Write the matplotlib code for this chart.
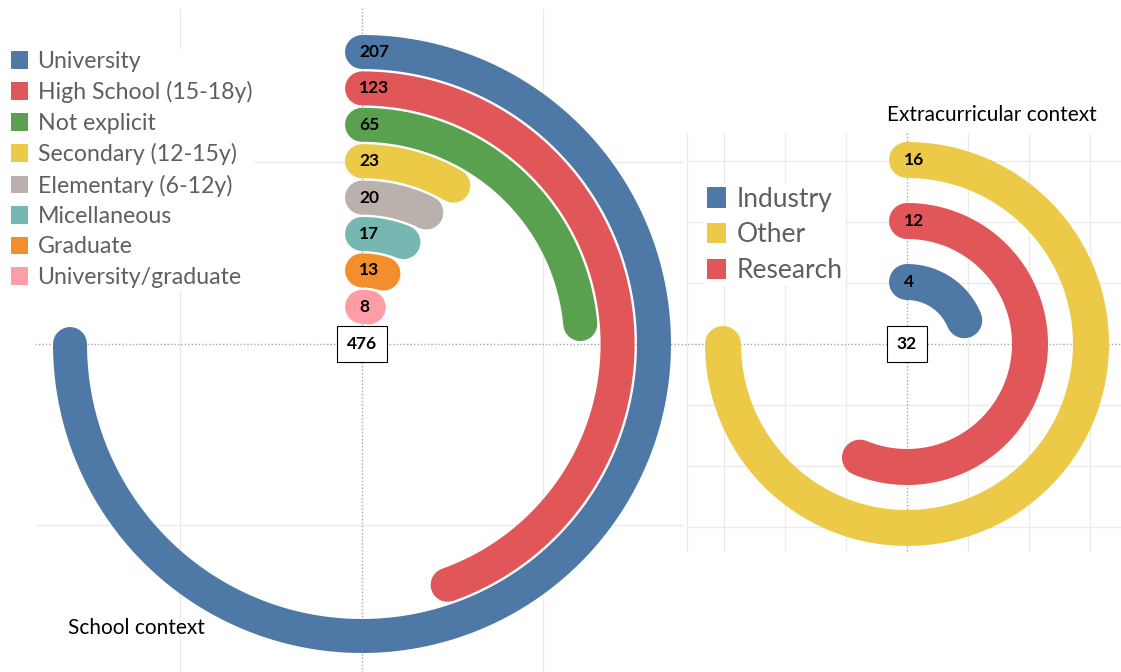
import numpy as np
import matplotlib
matplotlib.use('Agg')
import matplotlib.pyplot as plt
from matplotlib.patches import Patch

# data
school_categories = ['University', 'High School (15-18y)', 'Not explicit', 'Secondary (12-15y)',
                     'Elementary (6-12y)', 'Micellaneous', 'Graduate', 'University/graduate']
school_values = [207, 123, 65, 23, 20, 17, 13, 8]
school_colors = ['#4e79a7', '#e15759', '#59a14f', '#edc948', '#bab0ac', '#76b7b2', '#f28e2b', '#ff9da7']

extra_categories = ['Industry', 'Other', 'Research']
extra_values = [4, 16, 12]
extra_colors = ['#4e79a7', '#edc948', '#e15759']

W, H = 1121, 672
fig = plt.figure(figsize=(W / 100, H / 100), dpi=100)

# background axes in pixel units, for the tableau style grid
bg = fig.add_axes([0, 0, 1, 1])
bg.set_xlim(0, W)
bg.set_ylim(H, 0)
bg.axis('off')

grid_c = '#ebebeb'
dot_c = '#a8a8a8'
# left pane
bg.vlines([180, 543], 8, H, color=grid_c, lw=1, zorder=0)
bg.hlines([162, 525], 35, 683, color=grid_c, lw=1, zorder=0)
# right pane
bg.vlines([687, 724, 785, 846, 968, 1029, 1090], 133, 552, color=grid_c, lw=1, zorder=0)
bg.hlines([161, 222, 283, 405, 466, 527], 687, W, color=grid_c, lw=1, zorder=0)
# dotted axis lines
bg.hlines(344, 35, W, color=dot_c, lw=1, linestyle=(0, (1, 1.5)), zorder=0)
bg.vlines(362, 8, H, color=dot_c, lw=1, linestyle=(0, (1, 1.5)), zorder=0)
bg.vlines(907, 133, 552, color=dot_c, lw=1, linestyle=(0, (1, 1.5)), zorder=0)


def polar_at(cx, cy, R):
    rect = [(cx - R) / W, (H - (cy + R)) / H, 2 * R / W, 2 * R / H]
    ax = fig.add_axes(rect, projection='polar')
    ax.set_theta_zero_location('N')
    ax.set_theta_direction(-1)
    ax.set_ylim(0, R)
    ax.axis('off')
    return ax


def radial_bars(ax, values, colors, r_outer, step, lw_px):
    vmax = max(values)
    order = np.argsort(values)[::-1]
    for i, idx in enumerate(order):
        v = values[idx]
        r = r_outer - i * step
        theta = np.linspace(0, np.deg2rad(v / vmax * 270), 400)
        ax.plot(theta, np.full_like(theta, r), color=colors[idx], lw=lw_px * 0.72,
                solid_capstyle='round', clip_on=False)
        ax.annotate(str(v), xy=(0, r), xytext=(-3, 0), textcoords='offset pixels',
                    ha='left', va='center', fontsize=12.5, fontweight='bold',
                    family='Lato', color='black')
    ax.text(0, 0, str(sum(values)), ha='center', va='center', fontsize=12.5,
            fontweight='bold', family='Lato', color='black',
            bbox=dict(boxstyle='square,pad=0.55', fc='white', ec='black', lw=0.8))


ax1 = polar_at(362, 344, 320)
radial_bars(ax1, school_values, school_colors, 292, 36.4, 34)

ax2 = polar_at(907, 344, 215)
radial_bars(ax2, extra_values, extra_colors, 184, 61, 36)

leg1 = bg.legend([Patch(facecolor=c) for c in school_colors], school_categories,
                 loc='upper left', bbox_to_anchor=(9, 48.5), bbox_transform=bg.transData,
                 prop={'family': 'Lato', 'size': 16.7}, labelcolor='#5f5f5f',
                 handlelength=0.74, handleheight=0.8, handletextpad=0.39,
                 labelspacing=0.405, borderpad=0.1, borderaxespad=0,
                 frameon=True, facecolor='white', edgecolor='none', framealpha=1)
bg.add_artist(leg1)
bg.legend([Patch(facecolor=c) for c in extra_colors], extra_categories,
          loc='upper left', bbox_to_anchor=(704.4, 184), bbox_transform=bg.transData,
          prop={'family': 'Lato', 'size': 19}, labelcolor='#5f5f5f',
          handlelength=0.72, handleheight=0.8, handletextpad=0.42,
          labelspacing=0.405, borderpad=0.1, borderaxespad=0,
          frameon=True, facecolor='white', edgecolor='none', framealpha=1)

bg.text(68, 628, 'School context', ha='left', va='center', fontsize=15, family='Lato')
bg.text(887, 115, 'Extracurricular context', ha='left', va='center', fontsize=15, family='Lato')

fig.savefig('out.png', dpi=100)
